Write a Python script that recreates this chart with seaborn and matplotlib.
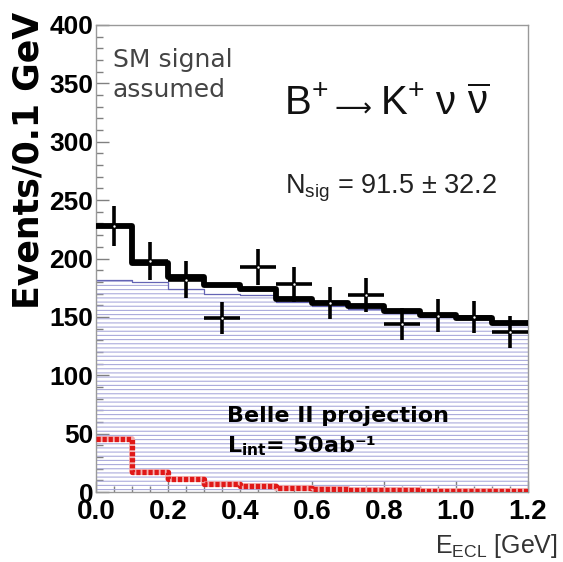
import numpy as np
import matplotlib
matplotlib.use("Agg")
import matplotlib.pyplot as plt
import seaborn as sns
from matplotlib.ticker import MultipleLocator, FormatStrFormatter

# ---------------- data ----------------
bin_edges = [0.0, 0.1, 0.2, 0.3, 0.4, 0.5, 0.6, 0.7, 0.8, 0.9, 1.0, 1.1, 1.2]
bin_centers = [0.05, 0.15, 0.25, 0.35, 0.45, 0.55, 0.65, 0.75, 0.85, 0.95, 1.05, 1.15]
total_fit = [228, 196, 184, 177, 174, 165, 162, 159, 155, 152, 149, 145]
background = [182, 179.5, 174, 170, 168.5, 162.5, 159.5, 157, 153.5, 150.5, 148, 144]
signal = [45, 17.5, 11, 7, 5, 3, 2.5, 2, 1.5, 1.2, 1, 0.8]
data_points = [228, 198, 182, 149, 192.5, 178, 162, 169, 144, 151, 150, 137]
data_errors = [17, 16, 15.5, 14, 15.5, 15, 14, 14.5, 13.5, 14, 14, 13.5]

# ---------------- style ----------------
sns.set_theme(style="ticks")
plt.rcParams["font.family"] = ["Liberation Sans", "DejaVu Sans"]
plt.rcParams["hatch.color"] = "#ababdc"
plt.rcParams["hatch.linewidth"] = 0.8
plt.rcParams["axes.unicode_minus"] = False

W, H = 563, 562
fig = plt.figure(figsize=(W / 100, H / 100), dpi=100)
ax_l, ax_r, ax_t, ax_b = 96, 528, 25, 492
ax = fig.add_axes([ax_l / W, 1 - ax_b / H, (ax_r - ax_l) / W, (ax_b - ax_t) / H])

# background (blue hatched)
sns.histplot(x=bin_centers, weights=background, bins=bin_edges, element="step",
             fill=True, color="#ababdc", facecolor="none", edgecolor="#ababdc",
             hatch="----", linewidth=0, ax=ax, zorder=1)
sns.histplot(x=bin_centers, weights=background, bins=bin_edges, element="step",
             fill=False, color="#6464b4", linewidth=0.9, ax=ax, zorder=1.5)
# signal (red dashed)
sns.histplot(x=bin_centers, weights=signal, bins=bin_edges, element="step",
             fill=False, color="#f4b0b0", linewidth=4.2, ax=ax, zorder=2)
sns.histplot(x=bin_centers, weights=signal, bins=bin_edges, element="step",
             fill=False, color="#e01818", linewidth=3.8,
             linestyle=(0, (0.8, 0.35)), ax=ax, zorder=3)
# total fit (black)
sns.histplot(x=bin_centers, weights=total_fit, bins=bin_edges, element="step",
             fill=False, color="black", linewidth=4.2, ax=ax, zorder=4)
# data points
half_w = np.diff(bin_edges) / 2
ax.errorbar(bin_centers, data_points, xerr=half_w, yerr=data_errors, fmt="none",
            ecolor="black", elinewidth=2.6, capsize=0, zorder=5)
ax.scatter(bin_centers, data_points, s=3, color="white", zorder=6, linewidths=0)

# ---------------- axes ----------------
ax.set_xlim(0, 1.2)
ax.set_ylim(0, 400)
ax.xaxis.set_major_locator(MultipleLocator(0.2))
ax.xaxis.set_minor_locator(MultipleLocator(0.05))
ax.xaxis.set_major_formatter(FormatStrFormatter("%.1f"))
ax.yaxis.set_major_locator(MultipleLocator(50))
ax.yaxis.set_minor_locator(MultipleLocator(10))
ax.tick_params(axis="both", which="both", direction="in", color="#808080", width=1)
ax.tick_params(axis="y", which="major", length=9, pad=2, labelsize=19)
ax.tick_params(axis="y", which="minor", length=5)
ax.tick_params(axis="x", which="major", length=8, pad=5, labelsize=20)
ax.tick_params(axis="x", which="minor", length=4)
for lbl in ax.get_xticklabels() + ax.get_yticklabels():
    lbl.set_fontweight("bold")
    lbl.set_color("black")
for s in ax.spines.values():
    s.set_color("#999999")
    s.set_linewidth(1)

def fx(px):
    return (px - ax_l) / (ax_r - ax_l)

def fy(py):
    return (ax_b - py) / (ax_b - ax_t)

ax.set_ylabel("Events/0.1 GeV", fontsize=25, fontweight="bold",
              family="DejaVu Sans", color="black")
ax.yaxis.set_label_coords(fx(46), fy(160))
ax.set_xlabel(r"E$_{\mathregular{ECL}}$ [GeV]", fontsize=18, color="#333333",
              loc="right", va="baseline")
ax.xaxis.set_label_coords(fx(558), fy(553))

# ---------------- annotations ----------------
ax.text(fx(113), fy(66.7), "SM signal", transform=ax.transAxes, fontsize=18,
        family="DejaVu Sans", color="#444444", va="baseline")
ax.text(fx(113), fy(96.7), "assumed", transform=ax.transAxes, fontsize=18,
        family="DejaVu Sans", color="#444444", va="baseline")
# decay title: B+ -> K+ nu nubar (arrow set separately to get its length)
ax.text(fx(284), fy(115), "B$^{\\mathregular{+}}$",
        transform=ax.transAxes, fontsize=29, color="#111111", va="baseline")
ax.text(fx(329), fy(115), r"$\longrightarrow$",
        transform=ax.transAxes, fontsize=18.5, color="#111111", va="baseline")
ax.text(fx(380), fy(115),
        "K$^{\\mathregular{+}}$ \u03bd $\\mathregular{\\overline{\u03bd}}$",
        transform=ax.transAxes, fontsize=29, color="#111111", va="baseline")
ax.text(fx(285), fy(193), r"N$_{\mathregular{sig}}$ = 91.5 ± 32.2",
        transform=ax.transAxes, fontsize=19.5, color="#222222", va="baseline")
ax.text(fx(227), fy(422), "Belle II projection", transform=ax.transAxes,
        fontsize=16, family="DejaVu Sans", fontweight="bold", color="black",
        va="baseline")
ax.text(fx(227), fy(452), "L$_{\\mathregular{int}}$= 50ab\u207b\u00b9",
        transform=ax.transAxes, fontsize=16, family="DejaVu Sans",
        fontweight="bold", color="black", va="baseline")

fig.savefig("out.png", dpi=100)
